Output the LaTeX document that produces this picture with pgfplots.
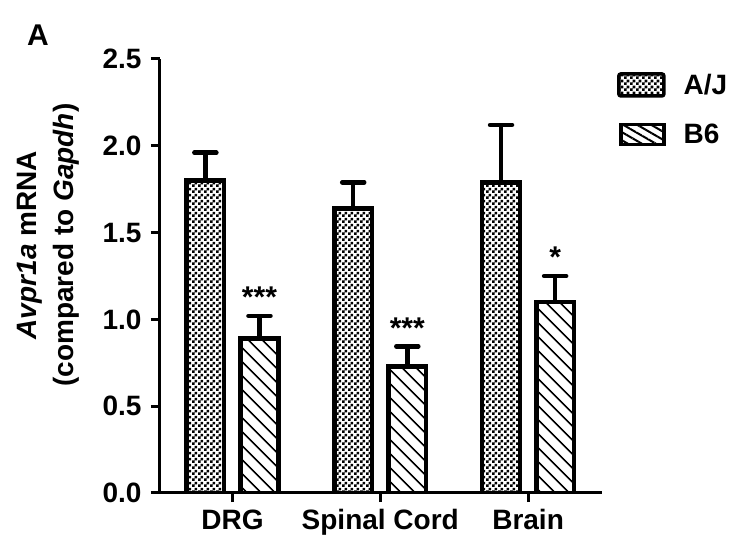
\documentclass[border=0pt]{standalone}
\usepackage{fontspec}
\setmainfont{Liberation Sans}
\usepackage{pgfplots}
\pgfplotsset{compat=1.18}
\usetikzlibrary{patterns,patterns.meta}

% checkerboard for A/J
\pgfdeclarepatternformonly{finecheck}{\pgfpointorigin}{\pgfqpoint{6pt}{6pt}}{\pgfqpoint{6pt}{6pt}}{%
  \pgfpathrectangle{\pgfpointorigin}{\pgfqpoint{3pt}{3pt}}%
  \pgfpathrectangle{\pgfqpoint{3pt}{3pt}}{\pgfqpoint{3pt}{3pt}}%
  \pgfusepath{fill}}

\newcommand{\bigbf}{\fontsize{28}{37}\selectfont\bfseries}

\begin{document}
\begin{tikzpicture}
\useasboundingbox (-160pt,-48pt) rectangle (577pt,493pt);
\begin{axis}[
  at={(0,0)}, anchor=south west,
  scale only axis, width=442pt, height=434pt,
  xmin=-0.49, xmax=2.5, ymin=0, ymax=2.5,
  axis x line*=bottom, axis y line*=left,
  axis line style={line width=3pt},
  tick style={line width=3pt, black},
  tick align=outside, major tick length=9pt,
  ytick={0,0.5,1,1.5,2,2.5},
  /pgf/number format/assume math mode=true,
  xtick={0,1,2}, xticklabels={DRG,Spinal Cord,Brain},
  ticklabel style={font=\bigbf},
  yticklabel style={xshift=-6pt, /pgf/number format/.cd, fixed, fixed zerofill, precision=1},
  xticklabel style={yshift=-4pt},
  ylabel={\textit{Avpr1a} mRNA\\(compared to \textit{Gapdh})},
  ylabel style={at={(axis description cs:-0.252,0.571)}, anchor=center, align=center, font=\bigbf},
  ybar, bar width=0.255,
  legend style={at={(1.027,0.975)}, anchor=north west, draw=none, fill=none,
    font=\bigbf, row sep=24pt, /tikz/every odd column/.append style={column sep=16pt}},
  legend cell align=left,
]
\addplot[bar shift=-0.183, draw=black, line width=4.5pt, pattern=finecheck,
  legend image code/.code={\draw[draw=black, line width=3.5pt, pattern=finecheck, rounded corners=2pt] (0pt,-11pt) rectangle (45pt,11pt);},
  error bars/.cd, y dir=plus, y explicit,
  error bar style={line width=4.5pt, black},
  error mark options={rotate=90, mark size=11pt, line width=4.5pt, black, line cap=round}]
  coordinates {(0,1.80) +- (0,0.16) (1,1.64) +- (0,0.15) (2,1.79) +- (0,0.33)};
\addlegendentry{A/J}
\addplot[bar shift=0.183, draw=black, line width=4.5pt,
  pattern={Lines[angle=-45, distance=10.5pt, line width=2pt]},
  legend image code/.code={\draw[draw=black, line width=3.5pt, pattern={Lines[angle=-30, distance=7pt, line width=2pt]}] (2pt,-10pt) rectangle (45pt,10pt);},
  error bars/.cd, y dir=plus, y explicit,
  error bar style={line width=4.5pt, black},
  error mark options={rotate=90, mark size=11pt, line width=4.5pt, black, line cap=round}]
  coordinates {(0,0.89) +- (0,0.13) (1,0.73) +- (0,0.115) (2,1.10) +- (0,0.15)};
\addlegendentry{B6}
\node[font=\fontsize{30}{30}\selectfont\bfseries, anchor=base, yshift=8pt] at (axis cs:0.183,1.02) {***};
\node[font=\fontsize{30}{30}\selectfont\bfseries, anchor=base, yshift=8pt] at (axis cs:1.183,0.845) {***};
\node[font=\fontsize{30}{30}\selectfont\bfseries, anchor=base, yshift=8pt] at (axis cs:2.183,1.25) {*};
\end{axis}
\node[font=\fontsize{30}{30}\selectfont\bfseries] at (-122pt,458pt) {A};
\end{tikzpicture}
\end{document}
